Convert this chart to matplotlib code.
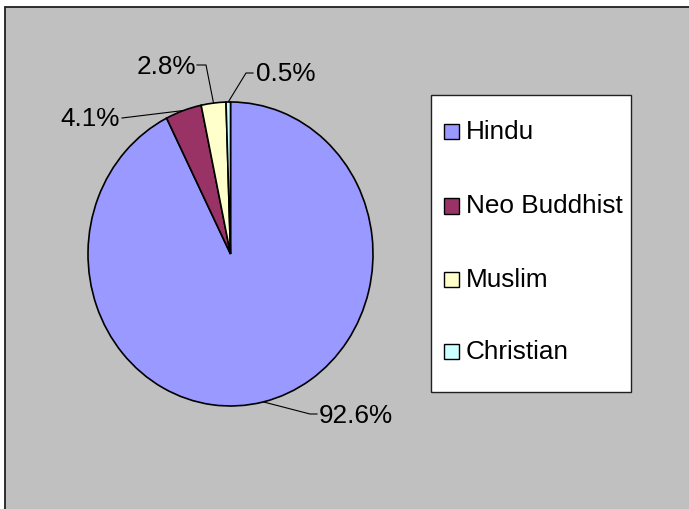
import matplotlib.pyplot as plt
from matplotlib.patches import Rectangle
import numpy as np

# religion shares (%)
religions = ['Hindu', 'Neo Buddhist', 'Muslim', 'Christian']
shares = [92.6, 4.1, 2.8, 0.5]
colors = ['#9999FF', '#993366', '#FFFFCC', '#CCFFFF']
pct_labels = ['92.6%', '4.1%', '2.8%', '0.5%']

plt.rcParams['font.family'] = ['Liberation Sans', 'DejaVu Sans']
FS = 18.8

W, H = 689, 510
fig = plt.figure(figsize=(W / 100, H / 100), dpi=100)
fig.patch.set_facecolor('white')

# full-size axes in pixel units (y down) for background, legend and labels
base = fig.add_axes([0, 0, 1, 1])
base.set_xlim(0, W)
base.set_ylim(H, 0)
base.axis('off')
base.add_patch(Rectangle((4.5, 7.5), W, H, facecolor='#C0C0C0',
                         edgecolor='#202020', lw=1.3))

# pie is a bit taller than wide
cx, cy, rx, ry = 230.5, 255, 142.5, 152
pie_ax = fig.add_axes([(cx - rx) / W, (H - cy - ry) / H, 2 * rx / W, 2 * ry / H])
wedges, _ = pie_ax.pie(shares, colors=colors, startangle=90, counterclock=False,
                       wedgeprops=dict(edgecolor='black', linewidth=1.2))
pie_ax.set_aspect('auto')
pie_ax.set_xlim(-1, 1)
pie_ax.set_ylim(-1, 1)
pie_ax.patch.set_alpha(0)
for w in wedges:
    w.set_clip_on(False)

# leader lines from the middle of each slice's arc to its label
label_pos = [(319, 422.7, 'left'), (120, 126, 'right'),
             (196, 74, 'right'), (256, 81, 'left')]
elbows = [[(310, 415), (317, 415)],
          [(122, 119)],
          [(206, 66), (197, 66)],
          [(246, 74), (253, 74)]]
cum = np.cumsum([0] + shares)
for i in range(len(shares)):
    mid = np.deg2rad(90 - 3.6 * (cum[i] + cum[i + 1]) / 2)
    ex, ey = cx + rx * np.cos(mid), cy - ry * np.sin(mid)
    pts = [(ex, ey)] + elbows[i]
    base.plot([p[0] for p in pts], [p[1] for p in pts], color='black', lw=0.8)
    tx, ty, ha = label_pos[i]
    base.text(tx, ty, pct_labels[i], ha=ha, va='baseline', fontsize=FS)

# legend box
base.add_patch(Rectangle((430.5, 95.5), 200, 297, facecolor='white',
                         edgecolor='#202020', lw=1.0, zorder=3))
baselines = [139.3, 213.5, 287.3, 359.3]
for name, col, yb in zip(religions, colors, baselines):
    base.add_patch(Rectangle((443.5, yb - 14.5), 15, 15.5, facecolor=col,
                             edgecolor='black', lw=1.0, zorder=4))
    base.text(466, yb, name, ha='left', va='baseline', fontsize=FS, zorder=4)

fig.savefig('out.png', dpi=100)
